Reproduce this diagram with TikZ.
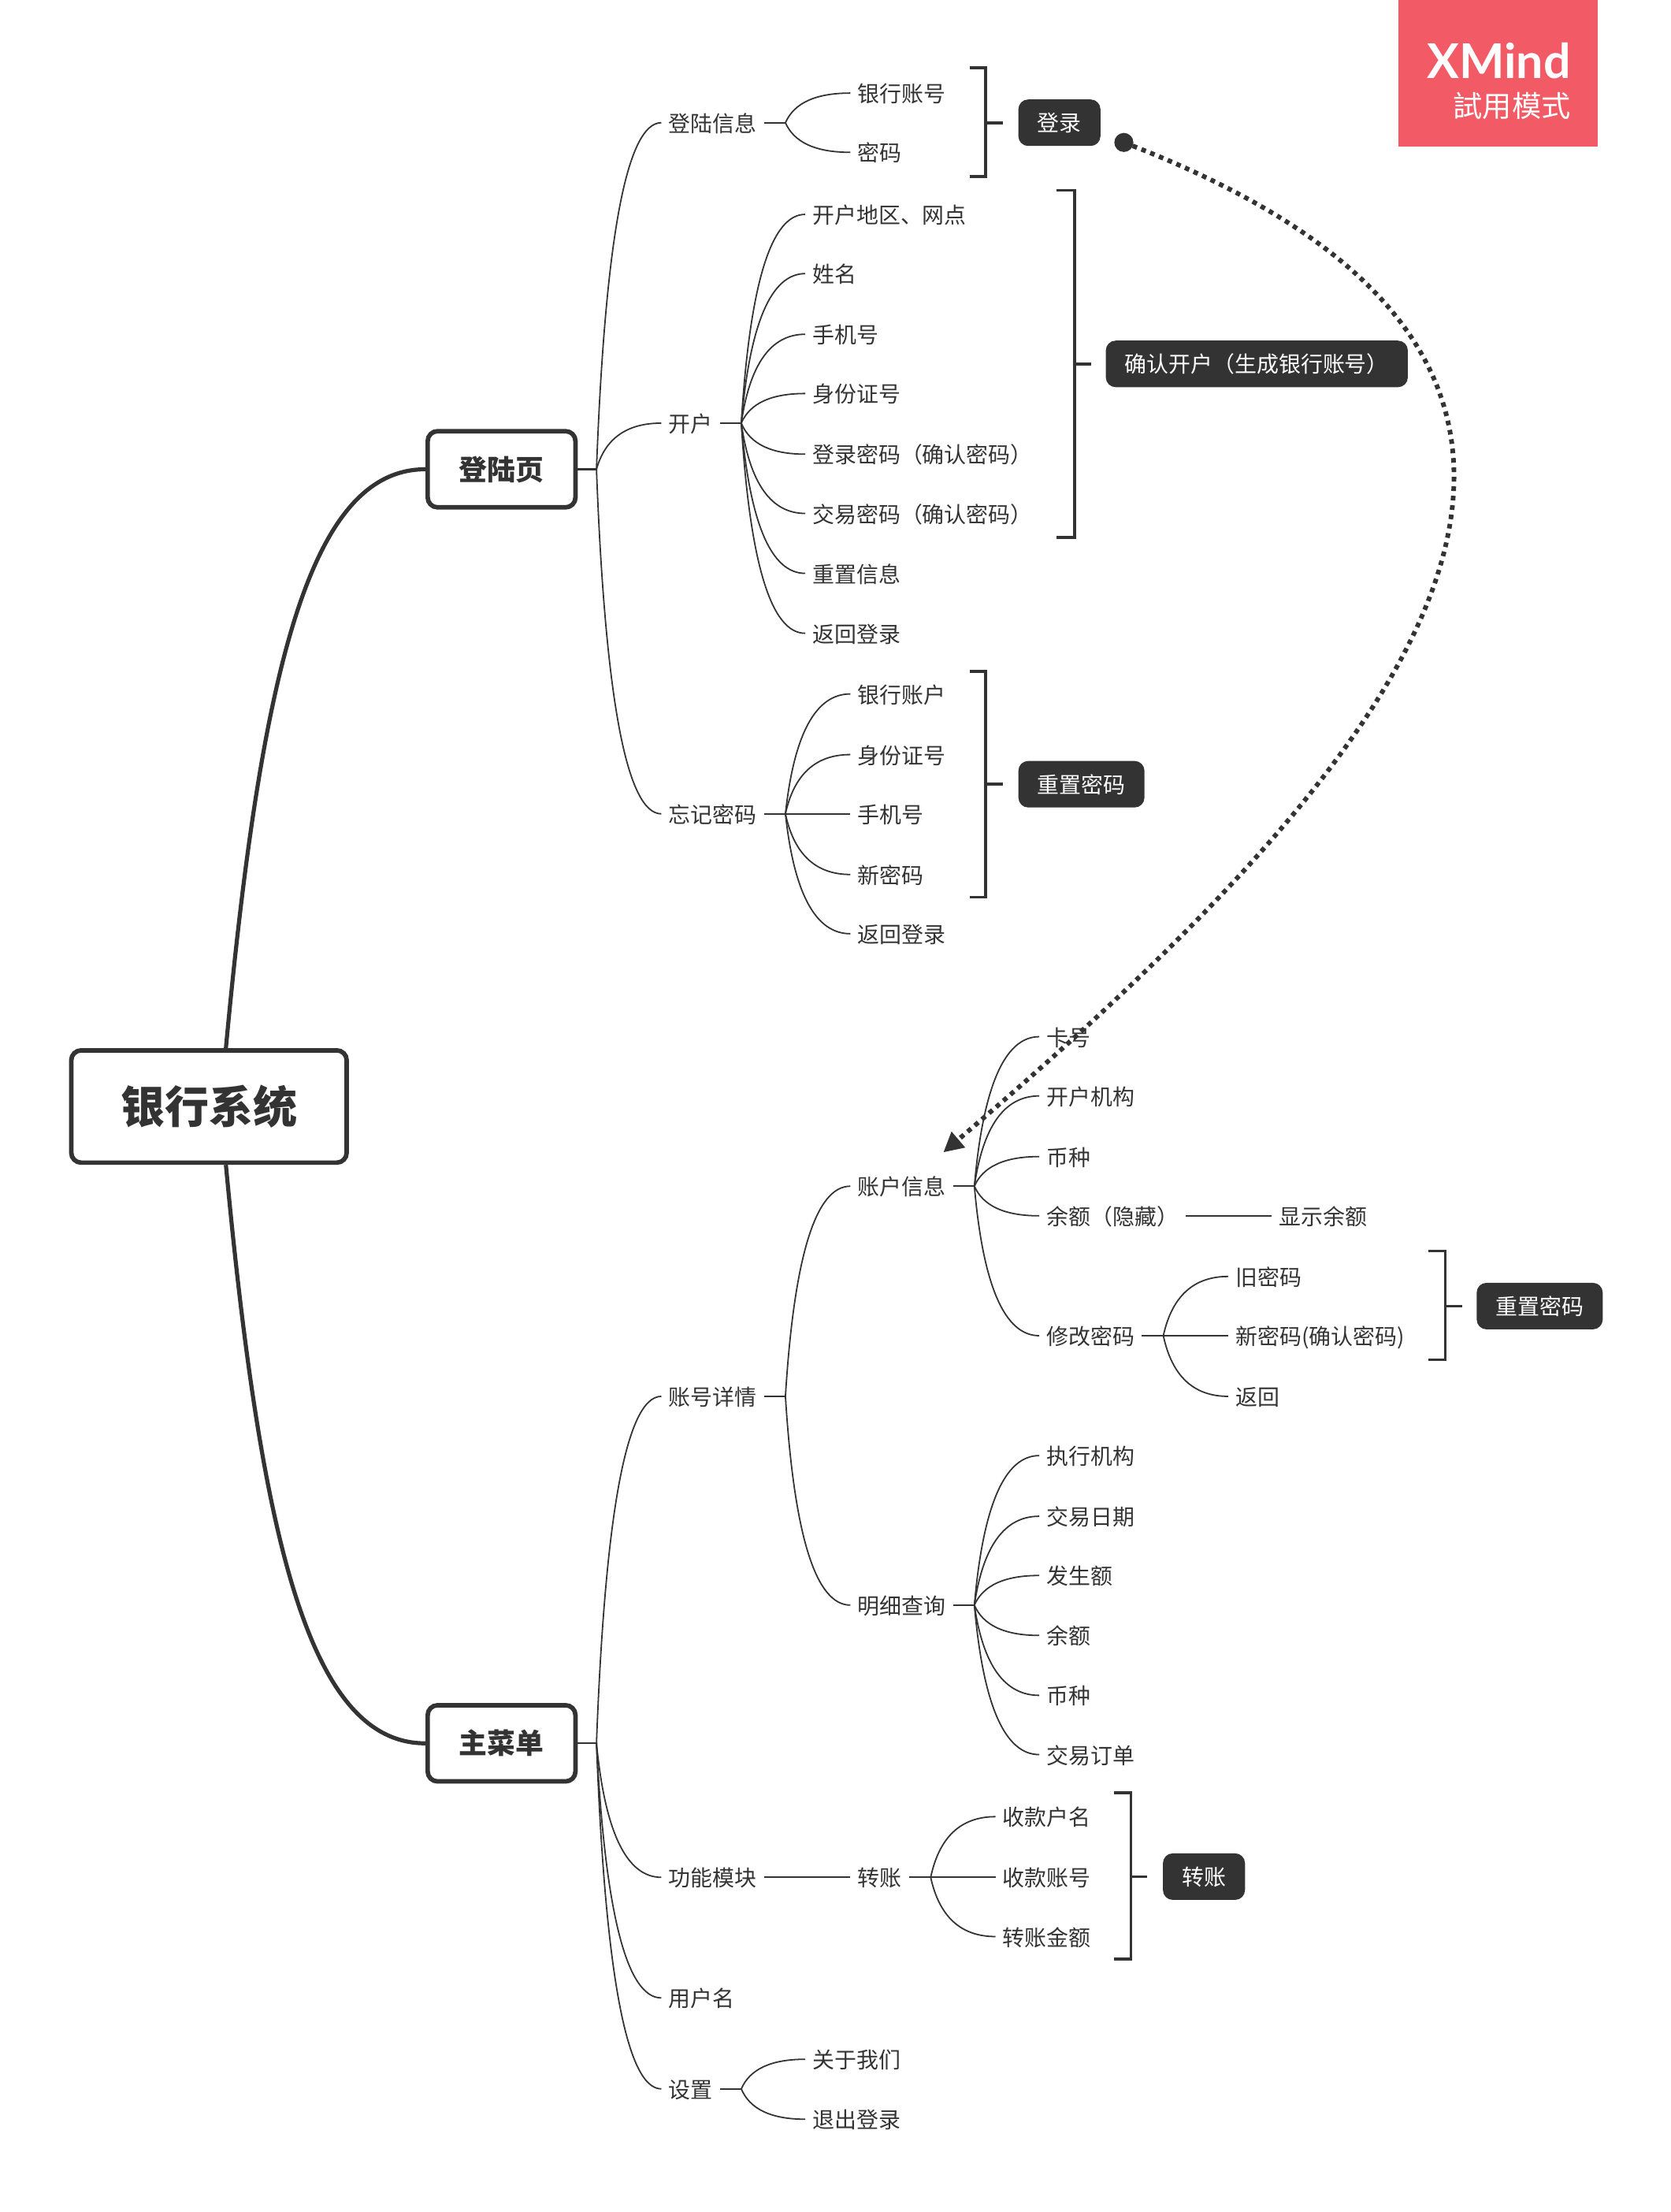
\documentclass[tikz,border=0pt]{standalone}
\usepackage{fontspec}
\usetikzlibrary{arrows.meta,calc}
\setmainfont{Noto Sans CJK SC}
\newfontfamily\tcfont{Noto Sans CJK TC}
\newfontfamily\markfont{Lato}
\definecolor{ink}{HTML}{333333}
\definecolor{markred}{HTML}{F25B65}
\tikzset{
    leaf/.style={anchor=west, inner xsep=5pt, inner ysep=0pt, text height=14.8pt, text depth=1.9pt, font=\fontsize{15.6pt}{18pt}\selectfont, text=ink},
    topic/.style={draw=ink, fill=white, line width=3.2pt, rounded corners=7pt, inner sep=0pt, minimum width=104.8pt, minimum height=54pt, text height=17.6pt, text depth=2.4pt, font=\fontsize{20pt}{24pt}\selectfont\bfseries, text=ink},
    badge/.style={anchor=west, fill=ink, rounded corners=7pt, inner xsep=13.5pt, inner ysep=0pt, minimum height=33pt, text height=14.2pt, text depth=1.9pt, font=\fontsize{15.6pt}{18pt}\selectfont, text=white},
    twig/.style={draw=ink, line width=1pt, to path={.. controls ($(\tikztostart)!0.667!($(\tikztostart |- \tikztotarget)!0.2!(\tikztotarget)$)$) and ($(\tikztotarget)!0.667!($(\tikztostart |- \tikztotarget)!0.2!(\tikztotarget)$)$) .. (\tikztotarget)}},
    stub/.style={draw=ink, line width=1.3pt},
    trunk/.style={draw=ink, line width=2.9pt},
    bracket/.style={draw=ink, line width=2pt}
}
\begin{document}
\begin{tikzpicture}[x=1pt, y=-1pt]
    \useasboundingbox (0,0) rectangle (1185,1568.3);

    \node[anchor=north east, fill=markred, inner sep=0pt, minimum width=141pt, minimum height=103.5pt] (mark) at (1133,0) {};
    \node[anchor=east, inner sep=0pt, text=white, font=\markfont\bfseries\fontsize{34pt}{36pt}\selectfont] (markname) at (1114,43) {XMind};
    \node[anchor=east, inner sep=0pt, text=white, font=\tcfont\fontsize{20.8pt}{24pt}\selectfont] (marktrial) at (1114,75) {試用模式};

    \node[topic, minimum width=195.3pt, minimum height=79.6pt, text height=27.3pt, text depth=3.7pt, font=\fontsize{31.3pt}{36pt}\selectfont\bfseries] (root) at (148.2,784.5) {银行系统};
    \node[topic] (login) at (355.7,332.7) {登陆页};
    \node[topic] (menu) at (355.7,1236) {主菜单};

    \draw[trunk] ([xshift=12pt]root.north) .. controls (185.4,473) and (220,332.7) .. (login.west);
    \draw[trunk] ([xshift=12pt]root.south) .. controls (185.4,1095) and (220,1236) .. (menu.west);

    \coordinate (jlogin) at (423,332.7);
    \coordinate (jinfo) at (557,87);
    \coordinate (jopen) at (525.7,300);
    \coordinate (jforgot) at (557,577);
    \coordinate (jmenu) at (423,1236);
    \coordinate (jdetail) at (557,990);
    \coordinate (jacct) at (691,841);
    \coordinate (jchange) at (825,947);
    \coordinate (jquery) at (691,1138);
    \coordinate (jpay) at (660,1331);
    \coordinate (jset) at (525.7,1481);

    \node[leaf] (info) at (469,87) {登陆信息};
    \node[leaf] (info1) at (603,66) {银行账号};
    \node[leaf] (info2) at (603,108) {密码};

    \node[leaf] (open) at (469,300) {开户};
    \node[leaf] (open1) at (571,152) {开户地区、网点};
    \node[leaf] (open2) at (571,194) {姓名};
    \node[leaf] (open3) at (571,237) {手机号};
    \node[leaf] (open4) at (571,279) {身份证号};
    \node[leaf] (open5) at (571,322) {登录密码（确认密码）};
    \node[leaf] (open6) at (571,364) {交易密码（确认密码）};
    \node[leaf] (open7) at (571,406.5) {重置信息};
    \node[leaf] (open8) at (571,449) {返回登录};

    \node[leaf] (forgot) at (469,577) {忘记密码};
    \node[leaf] (forgot1) at (603,492) {银行账户};
    \node[leaf] (forgot2) at (603,535) {身份证号};
    \node[leaf] (forgot3) at (603,577) {手机号};
    \node[leaf] (forgot4) at (603,620) {新密码};
    \node[leaf] (forgot5) at (603,662) {返回登录};

    \node[leaf] (detail) at (469,990) {账号详情};
    \node[leaf] (acct) at (603,841) {账户信息};
    \node[leaf] (acct1) at (737,735) {卡号};
    \node[leaf] (acct2) at (737,777) {开户机构};
    \node[leaf] (acct3) at (737,820) {币种};
    \node[leaf] (acct4) at (737,862) {余额（隐藏）};
    \node[leaf] (balance) at (902,862) {显示余额};
    \node[leaf] (change) at (737,947) {修改密码};
    \node[leaf] (change1) at (871,905) {旧密码};
    \node[leaf] (change2) at (871,947) {新密码(确认密码)};
    \node[leaf] (change3) at (871,990) {返回};

    \node[leaf] (query) at (603,1138) {明细查询};
    \node[leaf] (query1) at (737,1032) {执行机构};
    \node[leaf] (query2) at (737,1075) {交易日期};
    \node[leaf] (query3) at (737,1117) {发生额};
    \node[leaf] (query4) at (737,1159.5) {余额};
    \node[leaf] (query5) at (737,1202) {币种};
    \node[leaf] (query6) at (737,1244) {交易订单};

    \node[leaf] (func) at (469,1331) {功能模块};
    \node[leaf] (pay) at (603,1331) {转账};
    \node[leaf] (pay1) at (706,1288) {收款户名};
    \node[leaf] (pay2) at (706,1331) {收款账号};
    \node[leaf] (pay3) at (706,1373) {转账金额};

    \node[leaf] (user) at (469,1416.5) {用户名};
    \node[leaf] (set) at (469,1481) {设置};
    \node[leaf] (set1) at (571,1460) {关于我们};
    \node[leaf] (set2) at (571,1502.5) {退出登录};

    \node[badge] (blogin) at (722,87) {登录};
    \node[badge] (bopen) at (784,258) {确认开户（生成银行账号）};
    \node[badge] (breset) at (722,556) {重置密码};
    \node[badge] (bchange) at (1047,926) {重置密码};
    \node[badge] (bpay) at (824.5,1330.5) {转账};

    \draw[stub] (login.east) -- (jlogin);
    \draw[twig] (jlogin) to (info.west);
    \draw[twig] (jlogin) to (open.west);
    \draw[twig] (jlogin) to (forgot.west);

    \draw[stub] (info.east) -- (jinfo);
    \draw[twig] (jinfo) to (info1.west);
    \draw[twig] (jinfo) to (info2.west);

    \draw[stub] (open.east) -- (jopen);
    \draw[twig] (jopen) to (open1.west);
    \draw[twig] (jopen) to (open2.west);
    \draw[twig] (jopen) to (open3.west);
    \draw[twig] (jopen) to (open4.west);
    \draw[twig] (jopen) to (open5.west);
    \draw[twig] (jopen) to (open6.west);
    \draw[twig] (jopen) to (open7.west);
    \draw[twig] (jopen) to (open8.west);

    \draw[stub] (forgot.east) -- (jforgot);
    \draw[twig] (jforgot) to (forgot1.west);
    \draw[twig] (jforgot) to (forgot2.west);
    \draw[twig] (jforgot) to (forgot3.west);
    \draw[twig] (jforgot) to (forgot4.west);
    \draw[twig] (jforgot) to (forgot5.west);

    \draw[stub] (menu.east) -- (jmenu);
    \draw[twig] (jmenu) to (detail.west);
    \draw[twig] (jmenu) to (func.west);
    \draw[twig] (jmenu) to (user.west);
    \draw[twig] (jmenu) to (set.west);

    \draw[stub] (detail.east) -- (jdetail);
    \draw[twig] (jdetail) to (acct.west);
    \draw[twig] (jdetail) to (query.west);

    \draw[stub] (acct.east) -- (jacct);
    \draw[twig] (jacct) to (acct1.west);
    \draw[twig] (jacct) to (acct2.west);
    \draw[twig] (jacct) to (acct3.west);
    \draw[twig] (jacct) to (acct4.west);
    \draw[twig] (jacct) to (change.west);
    \draw[twig] (acct4.east) -- (balance.west);

    \draw[stub] (change.east) -- (jchange);
    \draw[twig] (jchange) to (change1.west);
    \draw[twig] (jchange) to (change2.west);
    \draw[twig] (jchange) to (change3.west);

    \draw[stub] (query.east) -- (jquery);
    \draw[twig] (jquery) to (query1.west);
    \draw[twig] (jquery) to (query2.west);
    \draw[twig] (jquery) to (query3.west);
    \draw[twig] (jquery) to (query4.west);
    \draw[twig] (jquery) to (query5.west);
    \draw[twig] (jquery) to (query6.west);

    \draw[twig] (func.east) -- (pay.west);
    \draw[stub] (pay.east) -- (jpay);
    \draw[twig] (jpay) to (pay1.west);
    \draw[twig] (jpay) to (pay2.west);
    \draw[twig] (jpay) to (pay3.west);

    \draw[stub] (set.east) -- (jset);
    \draw[twig] (jset) to (set1.west);
    \draw[twig] (jset) to (set2.west);

    \coordinate (tinfo) at (688,48);
    \coordinate (minfo) at (699,87);
    \coordinate (binfo) at (688,125);
    \draw[bracket] (tinfo) -| (minfo) |- (binfo);
    \draw[bracket] (minfo) -- ([xshift=-11pt]blogin.west);

    \coordinate (topen) at (749,135);
    \coordinate (mopen) at (762,258);
    \coordinate (bopenb) at (749,381);
    \draw[bracket] (topen) -| (mopen) |- (bopenb);
    \draw[bracket] (mopen) -- ([xshift=-10pt]bopen.west);

    \coordinate (tforgot) at (688,476);
    \coordinate (mforgot) at (699,556);
    \coordinate (bforgot) at (688,636);
    \draw[bracket] (tforgot) -| (mforgot) |- (bforgot);
    \draw[bracket] (mforgot) -- ([xshift=-11pt]breset.west);

    \coordinate (tchange) at (1013,887);
    \coordinate (mchange) at (1025,926);
    \coordinate (bchangeb) at (1013,964);
    \draw[bracket] (tchange) -| (mchange) |- (bchangeb);
    \draw[bracket] (mchange) -- ([xshift=-10pt]bchange.west);

    \coordinate (tpay) at (790,1271);
    \coordinate (mpay) at (802,1330.5);
    \coordinate (bpayb) at (790,1389);
    \draw[bracket] (tpay) -| (mpay) |- (bpayb);
    \draw[bracket] (mpay) -- ([xshift=-11pt]bpay.west);

    \node[circle, fill=ink, inner sep=0pt, minimum size=13.5pt] (reldot) at (797,101) {};
    \coordinate (reltip) at (669,817);
    \draw[draw=ink, line width=3.3pt, dash pattern=on 3.3pt off 3.4pt, -{Triangle[length=14pt, width=14pt, fill=ink]}] (reldot.center) .. controls (1240,270) and (970,560) .. (reltip);
\end{tikzpicture}
\end{document}
